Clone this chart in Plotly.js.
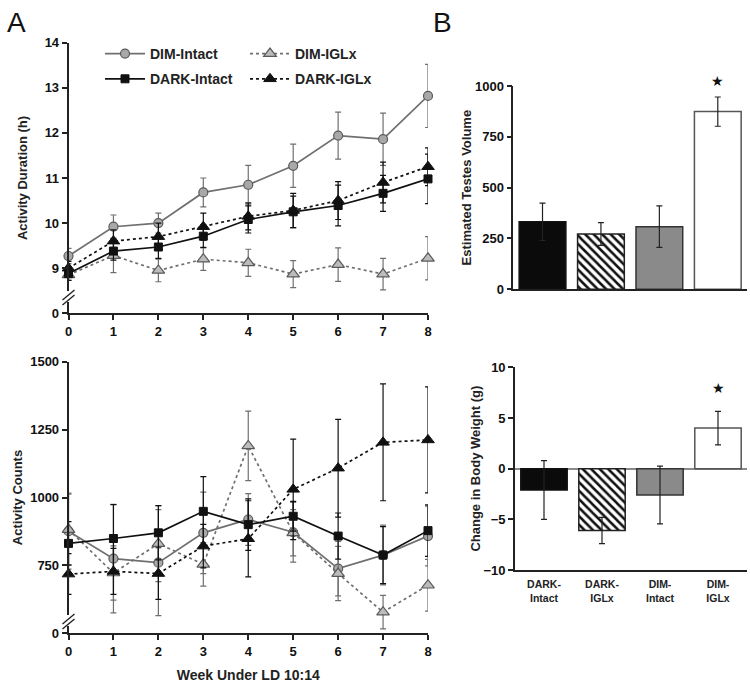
<!DOCTYPE html>
<html>
<head>
<meta charset="utf-8">
<script src="https://cdn.plot.ly/plotly-3.0.1.min.js"></script>
<style>
html,body{margin:0;padding:0;background:#fff;}
#chart{width:750px;height:685px;}
</style>
</head>
<body>
<div id="chart"></div>
<script>
// ---------------- DATA ----------------
const weeks = [0, 1, 2, 3, 4, 5, 6, 7, 8];

// Panel A top: Activity Duration (h)
const durDimIntact     = [9.27, 9.92, 10.0, 10.68, 10.85, 11.27, 11.94, 11.86, 12.82];
const durDimIntactErr  = [0.17, 0.26, 0.22, 0.32, 0.43, 0.48, 0.52, 0.58, 0.70];
const durDimIGLx       = [8.85, 9.28, 8.95, 9.20, 9.12, 8.87, 9.08, 8.87, 9.22];
const durDimIGLxErr    = [0.12, 0.38, 0.25, 0.25, 0.30, 0.30, 0.37, 0.35, 0.48];
const durDarkIntact    = [8.88, 9.38, 9.47, 9.71, 10.08, 10.25, 10.39, 10.66, 10.98];
const durDarkIntactErr = [0.15, 0.20, 0.25, 0.25, 0.30, 0.35, 0.45, 0.40, 0.55];
const durDarkIGLx      = [9.00, 9.60, 9.70, 9.92, 10.15, 10.28, 10.50, 10.90, 11.25];
const durDarkIGLxErr   = [0.15, 0.25, 0.30, 0.30, 0.30, 0.38, 0.42, 0.45, 0.42];

// Panel A bottom: Activity Counts
const cntDimIntact     = [876, 775, 760, 870, 919, 872, 738, 788, 858];
const cntDimIntactErr  = [140, 200, 195, 150, 95, 110, 100, 110, 110];
const cntDimIGLx       = [882, 722, 830, 754, 1190, 870, 720, 578, 677];
const cntDimIGLxErr    = [130, 100, 140, 80, 128, 85, 100, 62, 95];
const cntDarkIntact    = [831, 849, 870, 949, 900, 931, 858, 788, 878];
const cntDarkIntactErr = [80, 125, 100, 128, 95, 55, 85, 105, 95];
const cntDarkIGLx      = [718, 728, 720, 821, 848, 1030, 1108, 1203, 1212];
const cntDarkIGLxErr   = [75, 85, 95, 80, 140, 185, 180, 215, 195];

// Panel B
const groups        = ['DARK-Intact', 'DARK-IGLx', 'DIM-Intact', 'DIM-IGLx'];
const testesVol     = [332, 272, 308, 874];
const testesVolErr  = [92, 56, 102, 72];
const bodyWt        = [-2.1, -6.1, -2.6, 4.0];
const bodyWtErr     = [2.9, 1.3, 2.85, 1.65];
const sigGroup      = 'DIM-IGLx';

// Tick labels (broken axes)
const durTickVals  = [8, 9, 10, 11, 12, 13, 14];
const durTickText  = ['0', '9', '10', '11', '12', '13', '14'];
const cntTickVals  = [500, 750, 1000, 1250, 1500];
const cntTickText  = ['0', '750', '1000', '1250', '1500'];
const groupTickText = groups.map(g => g.replace('-', '-<br>'));

// ---------------- STYLE ----------------
const FONT = 'Liberation Sans, Arial, Helvetica, sans-serif';
const W = 750, H = 685;
const px = x => x / W;
const py = y => 1 - y / H;

const styles = {
  dimIntact:  {line: {color: '#6f6f6f', width: 1.7, dash: 'solid'},
               marker: {symbol: 'circle', size: 9, color: '#a8a8a8', line: {color: '#5a5a5a', width: 1.2}}, err: '#6f6f6f'},
  dimIGLx:    {line: {color: '#6f6f6f', width: 1.7, dash: 'dot'},
               marker: {symbol: 'triangle-up', size: 11, color: '#bcbcbc', line: {color: '#5a5a5a', width: 1.2}}, err: '#6f6f6f'},
  darkIntact: {line: {color: '#111111', width: 1.7, dash: 'solid'},
               marker: {symbol: 'square', size: 8, color: '#111111', line: {color: '#111111', width: 1}}, err: '#111111'},
  darkIGLx:   {line: {color: '#111111', width: 1.7, dash: 'dot'},
               marker: {symbol: 'triangle-up', size: 11, color: '#111111', line: {color: '#111111', width: 1}}, err: '#111111'}
};

function series(name, y, err, st, xa, ya, legend, showlegend) {
  return {
    type: 'scatter', mode: 'lines+markers', name: name,
    x: weeks, y: y, xaxis: xa, yaxis: ya,
    legend: legend, legendgroup: name, showlegend: showlegend,
    line: st.line, marker: st.marker, cliponaxis: false,
    error_y: {type: 'data', array: err, visible: true, color: st.err, thickness: 1.2, width: 3}
  };
}

const data = [
  series('DIM-Intact',  durDimIntact,  durDimIntactErr,  styles.dimIntact,  'x', 'y', 'legend', true),
  series('DIM-IGLx',    durDimIGLx,    durDimIGLxErr,    styles.dimIGLx,    'x', 'y', 'legend2', true),
  series('DARK-Intact', durDarkIntact, durDarkIntactErr, styles.darkIntact, 'x', 'y', 'legend', true),
  series('DARK-IGLx',   durDarkIGLx,   durDarkIGLxErr,   styles.darkIGLx,   'x', 'y', 'legend2', true),
  series('DIM-Intact',  cntDimIntact,  cntDimIntactErr,  styles.dimIntact,  'x2', 'y2', 'legend', false),
  series('DIM-IGLx',    cntDimIGLx,    cntDimIGLxErr,    styles.dimIGLx,    'x2', 'y2', 'legend2', false),
  series('DARK-Intact', cntDarkIntact, cntDarkIntactErr, styles.darkIntact, 'x2', 'y2', 'legend', false),
  series('DARK-IGLx',   cntDarkIGLx,   cntDarkIGLxErr,   styles.darkIGLx,   'x2', 'y2', 'legend2', false),
];

// one bar trace per group (overlay mode keeps each in its own category slot)
const barStyles = [
  {color: '#0b0b0b', line: '#111111', pattern: null},
  {color: '#ffffff', line: '#222222', pattern: {shape: '\\', fgcolor: '#111111', bgcolor: '#ffffff', size: 6, solidity: 0.42, fillmode: 'replace'}},
  {color: '#8a8a8a', line: '#333333', pattern: null},
  {color: '#ffffff', line: '#555555', pattern: null}
];

groups.forEach((g, i) => {
  [[testesVol, testesVolErr, 'x3', 'y3'], [bodyWt, bodyWtErr, 'x4', 'y4']].forEach(([vals, errs, xa, ya]) => {
    const mk = {color: barStyles[i].color, line: {color: barStyles[i].line, width: 1.5}};
    if (barStyles[i].pattern) mk.pattern = barStyles[i].pattern;
    data.push({
      type: 'bar', name: g, x: [g], y: [vals[i]], xaxis: xa, yaxis: ya, showlegend: false,
      width: 0.8, marker: mk,
      error_y: {type: 'data', array: [errs[i]], visible: true, color: '#222', thickness: 1.2, width: 3}
    });
  });
});

const tickFont = {family: FONT, size: 13, color: '#111', weight: 'bold'};
const titleFont = {family: FONT, size: 13, color: '#222', weight: 'bold'};

const baseAxis = {
  showline: true, linecolor: '#222', linewidth: 1.6, ticks: 'outside', ticklen: 5,
  tickwidth: 1.5, tickcolor: '#222', showgrid: false, zeroline: false, tickfont: tickFont,
  fixedrange: true
};

const sIdx = groups.indexOf(sigGroup);

const layout = {
  width: W, height: H,
  margin: {l: 0, r: 0, t: 0, b: 0},
  paper_bgcolor: '#fff', plot_bgcolor: 'rgba(0,0,0,0)',
  font: {family: FONT},
  showlegend: true,
  barmode: 'overlay',
  xaxis: Object.assign({}, baseAxis, {domain: [px(68.5), px(428)], anchor: 'y', range: [0, 8],
    tickvals: weeks, ticktext: weeks.map(String)}),
  yaxis: Object.assign({}, baseAxis, {domain: [py(313.3), py(42.7)], anchor: 'x', range: [8, 14],
    tickvals: durTickVals, ticktext: durTickText,
    title: {text: 'Activity Duration (h)', font: titleFont, standoff: 14}}),
  xaxis2: Object.assign({}, baseAxis, {domain: [px(68.5), px(428)], anchor: 'y2', range: [0, 8],
    tickvals: weeks, ticktext: weeks.map(String),
    title: {text: 'Week Under LD 10:14', font: {family: FONT, size: 14, color: '#222', weight: 'bold'}, standoff: 12}}),
  yaxis2: Object.assign({}, baseAxis, {domain: [py(633.3), py(361.7)], anchor: 'x2', range: [500, 1500],
    tickvals: cntTickVals, ticktext: cntTickText,
    title: {text: 'Activity Counts', font: titleFont, standoff: 5}}),
  xaxis3: Object.assign({}, baseAxis, {domain: [px(513.3), px(747)], anchor: 'y3', range: [-0.5, 3.5],
    ticks: '', showticklabels: false, type: 'category', categoryarray: groups, categoryorder: 'array'}),
  yaxis3: Object.assign({}, baseAxis, {domain: [py(289.3), py(86)], anchor: 'x3', range: [0, 1000],
    tickvals: [0, 250, 500, 750, 1000],
    title: {text: 'Estimated Testes Volume', font: titleFont, standoff: 0}}),
  xaxis4: Object.assign({}, baseAxis, {domain: [px(515), px(747)], anchor: 'y4', range: [-0.5, 3.5],
    ticks: '', type: 'category', categoryarray: groups, categoryorder: 'array',
    tickvals: groups, ticktext: groupTickText, ticklabelstandoff: 4,
    tickfont: {family: FONT, size: 10.5, color: '#222', weight: 'bold'}}),
  yaxis4: Object.assign({}, baseAxis, {domain: [py(570), py(367.3)], anchor: 'x4', range: [-10, 10],
    tickvals: [-10, -5, 0, 5, 10], zeroline: true, zerolinecolor: '#8a8a8a', zerolinewidth: 1.5,
    title: {text: 'Change in Body Weight (g)', font: titleFont, standoff: 0}}),
  legend: {x: px(100), y: py(38), xanchor: 'left', yanchor: 'top', bgcolor: 'rgba(0,0,0,0)',
    font: {family: FONT, size: 14, color: '#222', weight: 'bold'}, itemwidth: 40, tracegroupgap: 4,
    traceorder: 'grouped'},
  legend2: {x: px(245), y: py(38), xanchor: 'left', yanchor: 'top', bgcolor: 'rgba(0,0,0,0)',
    font: {family: FONT, size: 14, color: '#222', weight: 'bold'}, itemwidth: 40, tracegroupgap: 4,
    traceorder: 'grouped'},
  annotations: [
    {xref: 'paper', yref: 'paper', x: px(16), y: py(23), text: 'A', showarrow: false,
     font: {family: FONT, size: 28, color: '#111'}, xanchor: 'center', yanchor: 'middle'},
    {xref: 'paper', yref: 'paper', x: px(442), y: py(23), text: 'B', showarrow: false,
     font: {family: FONT, size: 28, color: '#111'}, xanchor: 'center', yanchor: 'middle'},
    {xref: 'x3', yref: 'y3', x: sigGroup, y: testesVol[sIdx] + testesVolErr[sIdx], text: '★',
     showarrow: false, yanchor: 'bottom', yshift: 6, font: {family: 'DejaVu Sans', size: 14, color: '#111'}},
    {xref: 'x4', yref: 'y4', x: sigGroup, y: bodyWt[sIdx] + bodyWtErr[sIdx], text: '★',
     showarrow: false, yanchor: 'bottom', yshift: 13, font: {family: 'DejaVu Sans', size: 14, color: '#111'}}
  ],
  shapes: [
    {type: 'rect', xref: 'paper', yref: 'paper', x0: px(65), x1: px(72), y0: py(302), y1: py(291),
     fillcolor: '#fff', line: {width: 0}, layer: 'above'},
    {type: 'line', xref: 'paper', yref: 'paper', x0: px(62.5), y0: py(300), x1: px(74.5), y1: py(290),
     line: {color: '#222', width: 1.4}, layer: 'above'},
    {type: 'line', xref: 'paper', yref: 'paper', x0: px(62.5), y0: py(305), x1: px(74.5), y1: py(295),
     line: {color: '#222', width: 1.4}, layer: 'above'},
    {type: 'rect', xref: 'paper', yref: 'paper', x0: px(65), x1: px(72), y0: py(626), y1: py(615),
     fillcolor: '#fff', line: {width: 0}, layer: 'above'},
    {type: 'line', xref: 'paper', yref: 'paper', x0: px(62.5), y0: py(624), x1: px(74.5), y1: py(614),
     line: {color: '#222', width: 1.4}, layer: 'above'},
    {type: 'line', xref: 'paper', yref: 'paper', x0: px(62.5), y0: py(629), x1: px(74.5), y1: py(619),
     line: {color: '#222', width: 1.4}, layer: 'above'}
  ]
};

Plotly.newPlot('chart', data, layout, {displayModeBar: false});
</script>
</body>
</html>
